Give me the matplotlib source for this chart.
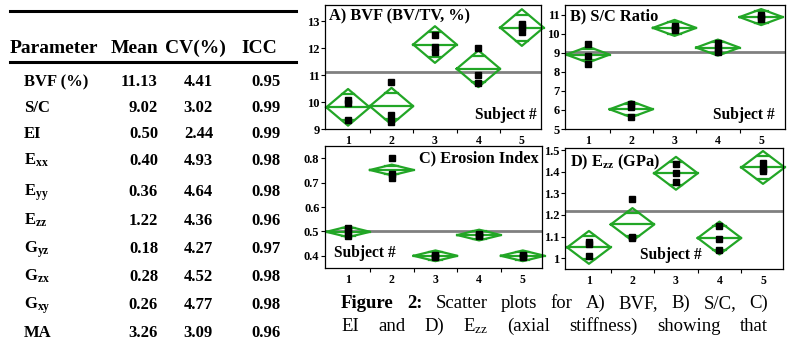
import numpy as np
import matplotlib
matplotlib.use('Agg')
import matplotlib.pyplot as plt

SERIF = 'Liberation Serif'
plt.rcParams['font.family'] = SERIF
plt.rcParams['mathtext.fontset'] = 'custom'
plt.rcParams['mathtext.rm'] = 'Liberation Serif'
plt.rcParams['mathtext.it'] = 'Liberation Serif:italic'
plt.rcParams['mathtext.bf'] = 'Liberation Serif:bold'

W, H = 788, 347
GREEN = '#22a626'

# table values
params = ['BVF (%)', 'S/C', 'EI', r'E$_\mathbf{xx}$', r'E$_\mathbf{yy}$', r'E$_\mathbf{zz}$',
          r'G$_\mathbf{yz}$', r'G$_\mathbf{zx}$', r'G$_\mathbf{xy}$', 'MA']
means = ['11.13', '9.02', '0.50', '0.40', '0.36', '1.22', '0.18', '0.28', '0.26', '3.26']
cvs = ['4.41', '3.02', '2.44', '4.93', '4.64', '4.36', '4.27', '4.52', '4.77', '3.09']
iccs = ['0.95', '0.99', '0.99', '0.98', '0.98', '0.96', '0.97', '0.98', '0.98', '0.96']

subjects = [1, 2, 3, 4, 5]
bvf_points = [[10.08, 9.98, 9.35], [10.75, 9.52, 9.27], [12.5, 12.05, 11.85],
              [12.0, 11.0, 10.7], [12.89, 12.8, 12.6]]
sc_points = [[9.45, 8.85, 8.4], [6.3, 6.15, 5.65], [10.4, 10.3, 10.2],
             [9.5, 9.25, 9.05], [11.0, 10.85, 10.75]]
ei_points = [[0.515, 0.50, 0.48], [0.80, 0.735, 0.72], [0.405, 0.40, 0.395],
             [0.49, 0.485, 0.48], [0.405, 0.40, 0.395]]
ezz_points = [[1.075, 1.065, 1.01], [1.273, 1.10, 1.095], [1.435, 1.393, 1.351],
              [1.15, 1.09, 1.04], [1.44, 1.415, 1.405]]

# diamond half heights (95% CI)
ci_half = {'A': 0.68, 'B': 0.42, 'C': 0.022, 'D': 0.076}


def px(x):
    return x / W


def py(y):
    return 1 - y / H


fig = plt.figure(figsize=(W / 100, H / 100), dpi=100)

# ---- table ----
fig.add_artist(plt.Line2D([px(10), px(296)], [py(11), py(11)], color='black', lw=2.2))
fig.add_artist(plt.Line2D([px(10), px(296)], [py(62), py(62)], color='black', lw=2.2))
hdr = dict(fontsize=14, fontweight='bold', va='baseline')
fig.text(px(10), py(53), 'Parameter', **hdr)
fig.text(px(111), py(53), 'Mean', **hdr)
fig.text(px(165), py(53), 'CV(%)', **hdr)
fig.text(px(241), py(53), 'ICC', **hdr)
row_y = [86, 112, 138, 165, 196, 225, 253, 281, 309, 337]
for yy, p, m, c, i in zip(row_y, params, means, cvs, iccs):
    kw = dict(fontsize=12, fontweight='bold', va='baseline')
    fig.text(px(24), py(yy), p, **kw)
    fig.text(px(158), py(yy), m, ha='right', **kw)
    fig.text(px(213), py(yy), c, ha='right', **kw)
    fig.text(px(281), py(yy), i, ha='right', **kw)


# ---- scatter panels ----
def panel(box, xlim, ylim, yticks, ylabels, points, grand, ci):
    l, r, t, b = box
    ax = fig.add_axes([px(l), py(b), px(r - l), (b - t) / H])
    ax.set_xlim(*xlim)
    ax.set_ylim(*ylim)
    ax.axhline(grand, color='#808080', lw=2.0, zorder=1)
    w = 0.5
    for s, pts in zip(subjects, points):
        m = np.mean(pts)
        ax.plot([s - w, s, s + w, s, s - w], [m, m + ci, m, m - ci, m],
                color=GREEN, lw=1.6, zorder=2, clip_on=False)
        ax.plot([s - w, s + w], [m, m], color=GREEN, lw=1.6, zorder=2, clip_on=False)
        off = ci / np.sqrt(2)
        hw = w * (1 - 1 / np.sqrt(2))
        for sgn in (1, -1):
            ax.plot([s - hw, s + hw], [m + sgn * off] * 2, color=GREEN, lw=1.6, zorder=2)
        ax.plot([s] * len(pts), pts, 's', color='black', ms=3.8, zorder=3)
    ax.set_xticks(subjects)
    ax.set_xticklabels([str(s) for s in subjects], fontsize=8.5, fontweight='bold')
    ax.set_xticks([1.5, 2.5, 3.5, 4.5], minor=True)
    ax.tick_params(axis='x', which='major', length=0, pad=4)
    ax.tick_params(axis='x', which='minor', length=3, width=0.8, direction='out')
    ax.set_yticks(yticks)
    ax.set_yticklabels(ylabels, fontsize=9, fontweight='bold')
    ax.tick_params(axis='y', length=3, width=0.8, direction='out', pad=1)
    for sp in ax.spines.values():
        sp.set_linewidth(0.9)
    return ax


TS = 11.8
SS = 11.2

axA = panel((325, 541, 5, 129), (0.47, 5.44), (9, 13.6), [9, 10, 11, 12, 13],
            ['9', '10', '11', '12', '13'], bvf_points, float(means[0]), ci_half['A'])
axA.text(0.02, 0.975, 'A) BVF (BV/TV, %)', transform=axA.transAxes, fontsize=TS,
         fontweight='bold', va='top', ha='left')
axA.text(0.98, 0.05, 'Subject #', transform=axA.transAxes, fontsize=SS,
         fontweight='bold', va='bottom', ha='right')

axB = panel((565, 785, 5, 129), (0.47, 5.55), (5, 11.5), [5, 6, 7, 8, 9, 10, 11],
            ['5', '6', '7', '8', '9', '10', '11'], sc_points, float(means[1]), ci_half['B'])
axB.text(0.025, 0.975, 'B) S/C Ratio', transform=axB.transAxes, fontsize=TS,
         fontweight='bold', va='top', ha='left')
axB.text(0.955, 0.05, 'Subject #', transform=axB.transAxes, fontsize=SS,
         fontweight='bold', va='bottom', ha='right')

axC = panel((325, 542, 146, 268), (0.47, 5.44), (0.35, 0.85), [0.4, 0.5, 0.6, 0.7, 0.8],
            ['0.4', '0.5', '0.6', '0.7', '0.8'], ei_points, float(means[2]), ci_half['C'])
axC.text(0.985, 0.96, 'C) Erosion Index', transform=axC.transAxes, fontsize=TS,
         fontweight='bold', va='top', ha='right')
axC.text(0.04, 0.06, 'Subject #', transform=axC.transAxes, fontsize=SS,
         fontweight='bold', va='bottom', ha='left')

axD = panel((565, 783, 148, 269), (0.45, 5.46), (0.95, 1.51), [1.0, 1.1, 1.2, 1.3, 1.4, 1.5],
            ['1', '1.1', '1.2', '1.3', '1.4', '1.5'], ezz_points, float(means[5]), ci_half['D'])
axD.text(0.025, 0.96, r'D) E$_\mathbf{zz}$ (GPa)', transform=axD.transAxes, fontsize=TS,
         fontweight='bold', va='top', ha='left')
axD.text(0.485, 0.05, 'Subject #', transform=axD.transAxes, fontsize=SS,
         fontweight='bold', va='bottom', ha='center')


# ---- caption, justified ----
def justify_line(tokens, y, x0, x1, size):
    texts = [fig.text(0, py(y), word, fontsize=size, fontweight=wt, va='baseline')
             for word, wt in tokens]
    rend = fig.canvas.get_renderer()
    widths = [t.get_window_extent(rend).width for t in texts]
    gap = (x1 - x0 - sum(widths)) / (len(texts) - 1)
    x = x0
    for t, wd in zip(texts, widths):
        t.set_x(px(x))
        x += wd + gap


line1 = [('Figure', 'bold'), ('2:', 'bold'), ('Scatter', 'normal'), ('plots', 'normal'),
         ('for', 'normal'), ('A)', 'normal'), ('BVF,', 'normal'), ('B)', 'normal'),
         ('S/C,', 'normal'), ('C)', 'normal')]
line2 = [('EI', 'normal'), ('and', 'normal'), ('D)', 'normal'), (r'E$_\mathrm{zz}$', 'normal'),
         ('(axial', 'normal'), ('stiffness)', 'normal'), ('showing', 'normal'), ('that', 'normal')]
justify_line(line1, 308, 341, 768, 13.5)
justify_line(line2, 331, 341, 768, 13.5)

fig.savefig('out.png', dpi=100)
